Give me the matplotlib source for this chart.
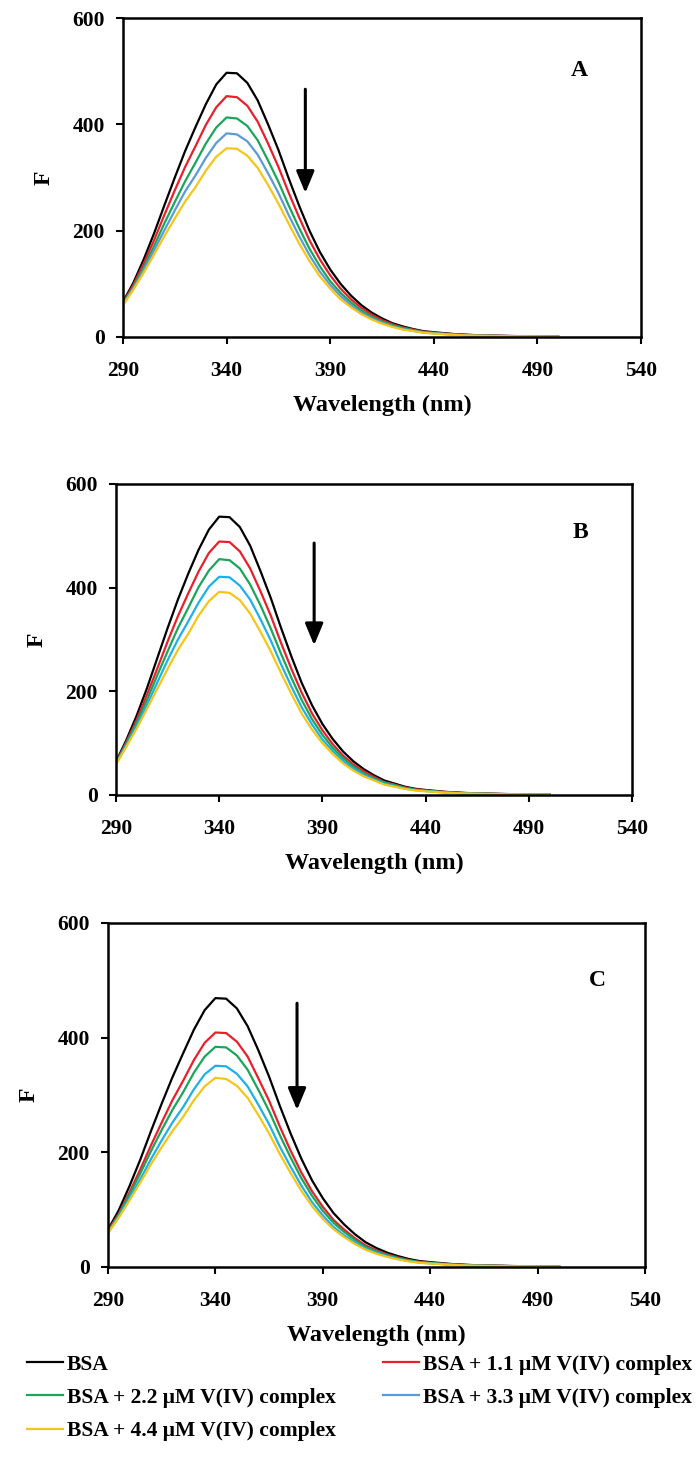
import matplotlib
matplotlib.use("Agg")
import matplotlib.pyplot as plt

plt.rcParams['font.family'] = ['Liberation Serif', 'DejaVu Serif']
plt.rcParams['font.weight'] = 'bold'

# ---------------- data ----------------
wavelength = [290, 295, 300, 305, 310, 315, 320, 325, 330, 335, 340, 345, 350, 355,
              360, 365, 370, 375, 380, 385, 390, 395, 400, 405, 410, 415, 420, 425,
              430, 435, 440, 450, 460, 470, 480, 490, 500]

series_labels = ["BSA",
                 "BSA + 1.1 \u03bcM V(IV) complex",
                 "BSA + 2.2 \u03bcM V(IV) complex",
                 "BSA + 3.3 \u03bcM V(IV) complex",
                 "BSA + 4.4 \u03bcM V(IV) complex"]

# Panel A
A_bsa = [66, 102, 146, 195, 248, 300, 350, 395, 438, 475, 497, 496, 478, 445, 400, 352, 298, 247, 200, 160,
         127, 100, 78, 60, 46, 35, 26, 20, 15, 11, 9, 5.5, 3.5, 2.5, 1.7, 1.2, 0.8]
A_11 = [64, 98, 138, 182, 230, 276, 320, 359, 399, 432, 453, 451, 435, 405, 364, 320, 271, 225, 182, 146,
        116, 91, 71, 55, 42, 32, 24, 18, 14, 10, 8, 5, 3.2, 2.3, 1.5, 1.1, 0.7]
A_22 = [63, 94, 131, 171, 214, 254, 293, 328, 364, 394, 413, 411, 397, 370, 332, 292, 247, 205, 166, 133,
        105, 83, 65, 50, 38, 29, 22, 17, 12.5, 9, 7.5, 4.6, 2.9, 2.1, 1.4, 1, 0.7]
A_33 = [61, 91, 126, 163, 201, 238, 274, 304, 337, 365, 383, 381, 368, 343, 308, 271, 229, 190, 154, 123,
        98, 77, 60, 46, 35, 27, 20, 15, 11.5, 8.5, 7, 4.2, 2.7, 1.9, 1.3, 0.9, 0.6]
A_44 = [60, 89, 121, 155, 190, 223, 255, 282, 313, 339, 355, 354, 341, 318, 286, 251, 213, 176, 143, 114,
        91, 71, 56, 43, 33, 25, 19, 14, 11, 8, 6.4, 3.9, 2.5, 1.8, 1.2, 0.9, 0.6]

# Panel B
B_bsa = [64, 106, 153, 206, 264, 322, 377, 427, 473, 512, 537, 536, 517, 481, 432, 380, 322, 267, 216, 173,
         137, 108, 84, 65, 50, 38, 28, 22, 16, 12, 9.7, 6, 3.8, 2.7, 1.8, 1.3, 0.9]
B_11 = [62, 102, 145, 193, 244, 296, 345, 389, 431, 467, 489, 488, 470, 437, 393, 346, 293, 243, 197, 157,
        125, 98, 76, 59, 46, 35, 25, 20, 14.5, 11, 8.8, 5.5, 3.5, 2.5, 1.6, 1.2, 0.8]
B_22 = [61, 99, 139, 183, 231, 277, 322, 361, 401, 433, 455, 453, 437, 406, 366, 321, 272, 226, 183, 146,
        116, 91, 71, 55, 42, 32, 24, 19, 13.5, 10, 8.2, 5.1, 3.2, 2.3, 1.5, 1.1, 0.8]
B_33 = [60, 96, 133, 174, 217, 260, 300, 335, 371, 402, 421, 420, 404, 377, 339, 298, 252, 209, 169, 136,
        107, 85, 66, 51, 39, 30, 22, 17, 12.5, 9.4, 7.6, 4.7, 3, 2.1, 1.4, 1, 0.7]
B_44 = [59, 93, 128, 166, 205, 243, 280, 311, 346, 374, 392, 390, 376, 350, 315, 277, 235, 195, 157, 126,
        100, 79, 61, 47, 36, 28, 20, 16, 11.7, 8.7, 7.1, 4.4, 2.8, 2, 1.3, 0.9, 0.7]

# Panel C
C_bsa = [65, 99, 141, 187, 237, 285, 331, 373, 414, 448, 469, 468, 451, 420, 378, 332, 281, 233, 189, 151,
         120, 94, 74, 57, 43, 33, 25, 19, 14, 10.4, 8.5, 5.2, 3.3, 2.4, 1.6, 1.1, 0.8]
C_11 = [63, 93, 130, 170, 212, 252, 291, 325, 361, 391, 409, 408, 393, 367, 329, 290, 245, 203, 165, 132,
        105, 82, 65, 50, 37.5, 29, 22, 16.6, 12.2, 9, 7.4, 4.5, 2.9, 2.1, 1.4, 1, 0.7]
C_22 = [61, 91, 126, 163, 202, 239, 274, 305, 339, 367, 384, 383, 369, 344, 309, 272, 230, 191, 155, 124,
        98, 77, 61, 47, 35, 27, 20.5, 15.6, 11.5, 8.5, 7, 4.3, 2.7, 2, 1.3, 0.9, 0.7]
C_33 = [60, 88, 120, 153, 188, 221, 252, 279, 310, 336, 351, 350, 337, 315, 283, 249, 210, 175, 142, 113,
        90, 70, 55, 43, 32, 25, 19, 14, 10.5, 7.8, 6.4, 3.9, 2.5, 1.8, 1.2, 0.8, 0.6]
C_44 = [59, 86, 116, 147, 179, 209, 237, 262, 291, 315, 330, 328, 316, 295, 265, 233, 197, 164, 133, 106,
        84, 66, 52, 40, 30, 23, 17.6, 13.3, 9.8, 7.3, 6, 3.7, 2.3, 1.7, 1.1, 0.8, 0.6]

panel_letters = ["A", "B", "C"]
x_ticks = [290, 340, 390, 440, 490, 540]
y_ticks = [0, 200, 400, 600]

# ---------------- style / layout ----------------
W, H = 696, 1477
colors_A = ['#000000', '#e8202a', '#1aa55a', '#5b9bd5', '#f5c518']
colors_BC = ['#000000', '#e8202a', '#1aa55a', '#1fb0e8', '#f5c518']

# axes boxes in pixels: left, right, top, bottom
boxes = [(123, 641, 18, 337), (116, 632, 484, 795), (108, 645, 923, 1267)]
letter_pos = [(0.88, 0.835), (0.90, 0.845), (0.912, 0.834)]
arrows = [(378, 466, 271), (386, 486, 289), (378, 460, 274)]

panels = [[A_bsa, A_11, A_22, A_33, A_44],
          [B_bsa, B_11, B_22, B_33, B_44],
          [C_bsa, C_11, C_22, C_33, C_44]]

fig = plt.figure(figsize=(W / 100, H / 100), dpi=100)

handles = None
for i, (box, data) in enumerate(zip(boxes, panels)):
    l, r, t, b = box
    ax = fig.add_axes([l / W, 1 - b / H, (r - l) / W, (b - t) / H])
    cols = colors_A if i == 0 else colors_BC
    hs = []
    for s, c, lab in zip(data, cols, series_labels):
        h, = ax.plot(wavelength, s, color=c, lw=1.6, label=lab)
        hs.append(h)
    if i == 0:
        handles = hs
    ax.set_xlim(290, 540)
    ax.set_ylim(0, 600)
    ax.set_xticks(x_ticks)
    ax.set_yticks(y_ticks)
    for sp in ax.spines.values():
        sp.set_linewidth(1.8)
    ax.tick_params(axis='both', direction='out', length=5, width=1.5, labelsize=15.5)
    ax.tick_params(axis='x', pad=12.5)
    ax.tick_params(axis='y', pad=8)
    for lbl in ax.get_xticklabels() + ax.get_yticklabels():
        lbl.set_fontweight('bold')
    ax.set_xlabel("Wavelength (nm)", fontsize=17.5, fontweight='bold', labelpad=10)
    ax.set_ylabel("F", fontsize=17, fontweight='bold', labelpad=13)
    lx, ly = letter_pos[i]
    ax.text(lx, ly, panel_letters[i], transform=ax.transAxes, fontsize=17,
            fontweight='bold', ha='center', va='center')
    axx, y0, y1 = arrows[i]
    ax.annotate('', xy=(axx, y1), xytext=(axx, y0),
                arrowprops=dict(arrowstyle='-|>,head_length=0.6,head_width=0.25',
                                lw=2.2, color='black',
                                mutation_scale=22, shrinkA=0, shrinkB=0))

order = [0, 2, 4, 1, 3]
fig.legend([handles[k] for k in order], [series_labels[k] for k in order],
           loc='upper left', bbox_to_anchor=(18 / W, 1 - 1346 / H), ncol=2,
           frameon=False, handlelength=1.67, handletextpad=0.19,
           columnspacing=2.2, labelspacing=0.61, borderpad=0.4, borderaxespad=0,
           prop={'weight': 'bold', 'size': 15.5})

fig.savefig("out.png", dpi=100)
